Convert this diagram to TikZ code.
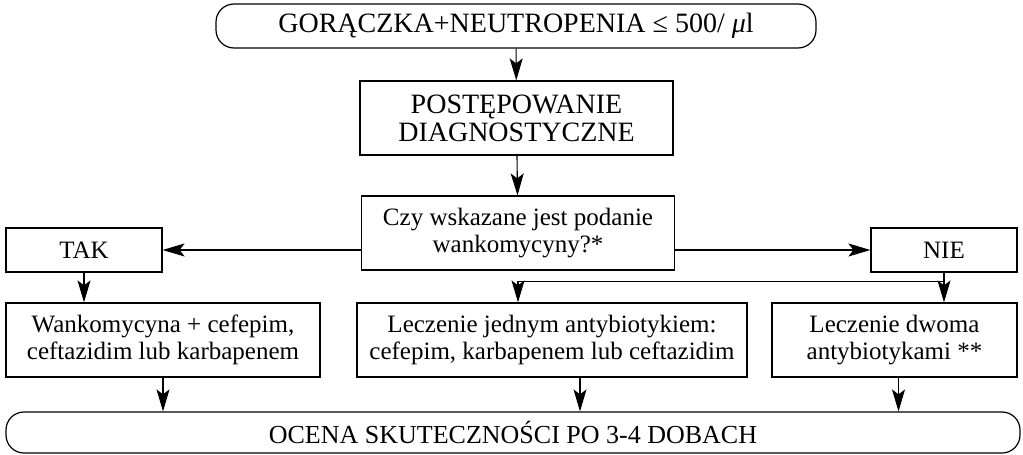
\documentclass[tikz,border=0pt]{standalone}
\usepackage{fontspec}
\setmainfont{Liberation Serif}
\usetikzlibrary{arrows.meta}

\tikzset{
  box/.style={draw, line width=0.6pt, inner sep=0pt, align=center,
    minimum height=37pt, font=\fontsize{12.5}{13.4}\selectfont},
  caps/.style={font=\fontsize{14}{14}\selectfont},
  pill/.style={box, rounded corners=9pt, minimum height=22pt},
  small/.style={box, minimum height=22pt},
  arr/.style={-{Stealth[length=11pt,width=6.5pt,inset=2.5pt]}, line width=0.55pt}
}

\begin{document}
\begin{tikzpicture}[x=0.5pt, y=-0.5pt]
  \useasboundingbox (0,0) rectangle (1023,455);

  \node[pill, caps, minimum width=300pt] (goraczka) at (516,26)
    {GORĄCZKA+NEUTROPENIA ≤ 500/ {\itshape μ}l};
  \node[box, caps, minimum width=156.5pt] (diag) at (516.5,118)
    {POSTĘPOWANIE\\DIAGNOSTYCZNE};
  \node[box, minimum width=156.5pt] (czy) at (518,233)
    {Czy wskazane jest podanie\\wankomycyny?*};
  \node[small, minimum width=78pt] (tak) at (84,250) {TAK};
  \node[small, minimum width=73pt] (nie) at (944,250) {NIE};
  \node[box, minimum width=157pt] (wank) at (163,340)
    {Wankomycyna + cefepim,\\ceftazidim lub karbapenem};
  \node[box, minimum width=195pt] (jednym) at (552,340)
    {Leczenie jednym antybiotykiem:\\cefepim, karbapenem lub ceftazidim};
  \node[box, minimum width=122.5pt] (dwoma) at (894.5,340)
    {Leczenie dwoma\\antybiotykami **};
  \node[pill, font=\fontsize{13}{14}\selectfont, minimum width=507pt,
    minimum height=20.5pt] (ocena) at (513,432.5)
    {OCENA SKUTECZNOŚCI PO 3-4 DOBACH};

  \coordinate (split) at ([yshift=-4.5pt]nie.south);
  \coordinate (jout) at ([xshift=14pt]jednym.south);

  \draw[arr] (goraczka) -- (diag);
  \draw[arr] (diag) -- (czy);
  \draw[arr] (czy.west |- tak) -- (tak);
  \draw[arr] (czy.east |- nie) -- (nie);
  \draw[arr] (tak) -- (tak |- wank.north);
  \draw[arr] (nie) -- (nie |- dwoma.north);
  \draw[arr] (split) -| (czy.south |- jednym.north);
  \draw[arr] (wank) -- (wank |- ocena.north);
  \draw[arr] (jout) -- (jout |- ocena.north);
  \draw[arr] ([xshift=2pt]dwoma.south) -- ([xshift=2pt]dwoma.south |- ocena.north);
\end{tikzpicture}
\end{document}
